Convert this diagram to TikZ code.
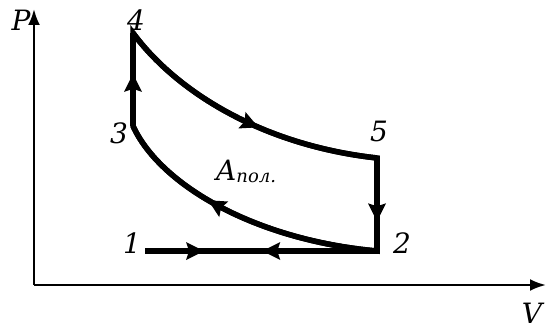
\documentclass[tikz,border=0pt]{standalone}
\usepackage{fontspec}
\setmainfont{DejaVu Serif}
\usetikzlibrary{arrows.meta,decorations.markings}
\begin{document}
\begin{tikzpicture}[x=1pt,y=-1pt]
\useasboundingbox (0,0) rectangle (546,329);
\tikzset{
  axis/.style={line width=2.5pt,-{Latex[length=16pt,width=12pt]}},
  proc/.style={line width=5.5pt,line join=miter},
  lbl/.style={font=\fontsize{28}{28}\selectfont\itshape, inner sep=0pt},
  midarrow/.style={postaction={decorate,decoration={markings,
      mark=at position #1 with {\fill (1pt,0pt) -- (-17pt,9pt) -- (-14pt,0pt) -- (-17pt,-9pt) -- cycle;}}}}
}
\coordinate (O) at (34,285);
\coordinate (Pend) at (34,9);
\coordinate (Vend) at (546,285);
\draw[axis] (O) -- (Pend);
\draw[axis] (O) -- (Vend);

\coordinate (p1) at (145,251);
\coordinate (p2) at (377,251);
\coordinate (p3) at (133,126);
\coordinate (p4) at (133,33);
\coordinate (p5) at (377,158);

\draw[proc] (p3) -- (p4) .. controls (175,90) and (260,145) .. (p5) -- (p2)
   .. controls (255,240) and (160,185) .. (p3) -- cycle;
\draw[proc,midarrow=0.55] (p3) -- (p4);
\draw[proc,midarrow=0.56] (p4) .. controls (175,90) and (260,145) .. (p5);
\draw[proc,midarrow=0.67] (p5) -- (p2);
\draw[proc,midarrow=0.62] (p2) .. controls (255,240) and (160,185) .. (p3);
\draw[proc,midarrow=0.25] (p1) -- (p2);
\draw[proc,midarrow=0.49] (p2) -- (p1);

\node[lbl] (lP) at (21,20) {P};
\node[lbl] (l4) at (136,20) {4};
\node[lbl] (l3) at (119,133) {3};
\node[lbl] (l5) at (379,131) {5};
\node[lbl] (l2) at (402,243) {2};
\node[lbl] (l1) at (132,243) {1};
\node[lbl] (lV) at (532,313) {V};
\node[lbl,anchor=base west] (lA) at (216,180) {A\raisebox{-2pt}{\fontsize{18}{18}\selectfont\itshape пол.}};
\end{tikzpicture}
\end{document}
